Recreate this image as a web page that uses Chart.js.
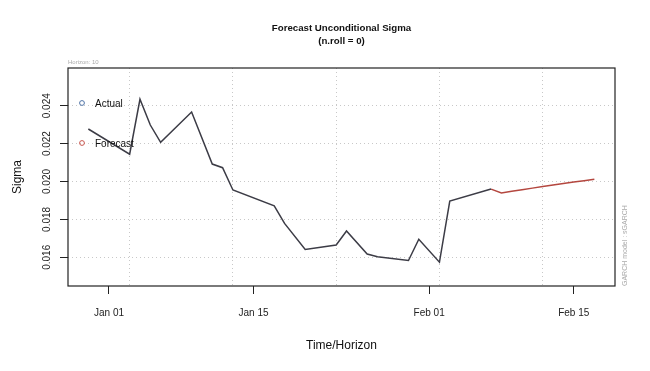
<!DOCTYPE html>
<html>
<head>
<meta charset="utf-8">
<script src="https://cdn.jsdelivr.net/npm/chart.js@4.4.1/dist/chart.umd.min.js"></script>
<style>
  html, body { margin: 0; padding: 0; background: #fff; }
  #wrap { width: 650px; height: 371px; }
</style>
</head>
<body>
<div id="wrap"><canvas id="sigmaChart"></canvas></div>
<script>
// values
const actualDates = [
  "2013-12-30", "2014-01-03", "2014-01-04", "2014-01-05", "2014-01-06",
  "2014-01-09", "2014-01-11", "2014-01-12", "2014-01-13", "2014-01-17",
  "2014-01-18", "2014-01-20", "2014-01-23", "2014-01-24", "2014-01-26",
  "2014-01-27", "2014-01-30", "2014-01-31", "2014-02-02", "2014-02-03",
  "2014-02-07"
];
const actualSigma = [
  0.02277, 0.02144, 0.02434, 0.02298, 0.02207,
  0.02367, 0.02092, 0.02073, 0.01955, 0.01872,
  0.01779, 0.01641, 0.01665, 0.01739, 0.01617,
  0.01603, 0.01583, 0.01695, 0.01574, 0.01897,
  0.01960
];
const forecastDates = [
  "2014-02-08", "2014-02-09", "2014-02-10", "2014-02-11", "2014-02-12",
  "2014-02-13", "2014-02-14", "2014-02-15", "2014-02-16", "2014-02-17"
];
const forecastSigma = [
  0.01939, 0.01948, 0.01957, 0.01965, 0.01973,
  0.01981, 0.01989, 0.01997, 0.02004, 0.02012
];
const xTickDates = ["2014-01-01", "2014-01-15", "2014-02-01", "2014-02-15"];
const xTickLabels = ["Jan 01", "Jan 15", "Feb 01", "Feb 15"];
const gridDates = ["2014-01-03", "2014-01-13", "2014-01-23", "2014-02-02", "2014-02-12"];
const yTicks = [0.016, 0.018, 0.020, 0.022, 0.024];
const titleLines = ["Forecast Unconditional Sigma", "(n.roll = 0)"];

const origin = Date.parse("2014-01-01");
const toDay = (d) => (Date.parse(d) - origin) / 86400000;

const actualPoints = actualDates.map((d, i) => ({ x: toDay(d), y: actualSigma[i] }));
const lastActual = actualPoints[actualPoints.length - 1];
const forecastPoints = [lastActual].concat(
  forecastDates.map((d, i) => ({ x: toDay(d), y: forecastSigma[i] }))
);

const fontFamily = "'Liberation Sans', Arial, Helvetica, sans-serif";
const legendColors = ["#4f73a6", "#c8574f"];

const textPlugin = {
  id: "rText",
  afterDraw(chart) {
    const ctx = chart.ctx;
    const area = chart.chartArea;
    const yScale = chart.scales.y;
    const midX = (area.left + area.right) / 2;
    ctx.save();

    // plot box
    ctx.strokeStyle = "#222";
    ctx.lineWidth = 1.2;
    ctx.strokeRect(area.left, area.top, area.right - area.left, area.bottom - area.top);

    // main title, centred over the plot region like R does
    ctx.fillStyle = "#111";
    ctx.font = "bold 9.7px " + fontFamily;
    ctx.textAlign = "center";
    ctx.textBaseline = "middle";
    titleLines.forEach((line, i) => {
      ctx.fillText(line, midX, 28 + i * 13);
    });

    // y tick labels, rotated like R
    ctx.fillStyle = "#222";
    ctx.font = "10px " + fontFamily;
    yScale.ticks.forEach((t) => {
      const py = yScale.getPixelForValue(t.value);
      ctx.save();
      ctx.translate(area.left - 21, py);
      ctx.rotate(-Math.PI / 2);
      ctx.fillText(t.value.toFixed(3), 0, 0);
      ctx.restore();
    });

    // legend
    chart.data.datasets.forEach((ds, i) => {
      const ly = area.top + 35 + i * 40;
      ctx.beginPath();
      ctx.arc(area.left + 14, ly, 2.4, 0, Math.PI * 2);
      ctx.strokeStyle = legendColors[i];
      ctx.lineWidth = 1;
      ctx.stroke();
      ctx.fillStyle = "#111";
      ctx.textAlign = "left";
      ctx.font = "10px " + fontFamily;
      ctx.fillText(ds.label, area.left + 27, ly + 1);
    });

    // small notes
    ctx.fillStyle = "#aaa";
    ctx.font = "6px " + fontFamily;
    ctx.textAlign = "left";
    ctx.textBaseline = "bottom";
    ctx.fillText("Horizon: 10", area.left, area.top - 3);

    ctx.font = "7px " + fontFamily;
    ctx.textBaseline = "middle";
    ctx.save();
    ctx.translate(area.right + 10, area.bottom);
    ctx.rotate(-Math.PI / 2);
    ctx.fillText("GARCH model : sGARCH", 0, 0);
    ctx.restore();

    ctx.restore();
  },
};

const config = {
  type: "line",
  data: {
    datasets: [
      {
        label: "Actual",
        data: actualPoints,
        borderColor: "#3c3c46",
        borderWidth: 1.5,
        pointRadius: 0,
        tension: 0,
      },
      {
        label: "Forecast",
        data: forecastPoints,
        borderColor: "#b4473f",
        borderWidth: 1.5,
        pointRadius: 0,
        tension: 0,
      },
    ],
  },
  options: {
    responsive: true,
    maintainAspectRatio: false,
    animation: false,
    layout: { padding: { left: 0, right: 35, top: 68, bottom: 0 } },
    plugins: {
      legend: { display: false },
      tooltip: { enabled: false },
      title: { display: false },
    },
    scales: {
      xg: {
        type: "linear",
        position: "bottom",
        min: -3.97,
        max: 49.0,
        afterBuildTicks: (scale) => {
          scale.ticks = gridDates.map((d) => ({ value: toDay(d) }));
        },
        afterFit: (scale) => { scale.height = 0; },
        ticks: { display: false },
        grid: { color: "#c8c8c8", lineWidth: 1, drawTicks: false },
        border: { display: false, dash: [1, 3] },
      },
      x: {
        type: "linear",
        position: "bottom",
        min: -3.97,
        max: 49.0,
        afterBuildTicks: (scale) => {
          scale.ticks = xTickDates.map((d) => ({ value: toDay(d) }));
        },
        afterFit: (scale) => { scale.height = 85; },
        ticks: {
          color: "#222",
          padding: 13,
          maxRotation: 0,
          font: { family: fontFamily, size: 10 },
          callback: (value, index) => xTickLabels[index],
        },
        grid: {
          drawOnChartArea: false,
          drawTicks: true,
          tickLength: 8,
          tickColor: "#222",
          tickWidth: 1,
        },
        border: { display: false },
        title: {
          display: true,
          text: "Time/Horizon",
          color: "#111",
          font: { family: fontFamily, size: 12 },
          padding: { top: 0, bottom: 17.8 },
        },
      },
      y: {
        type: "linear",
        min: 0.014485,
        max: 0.02599,
        afterBuildTicks: (scale) => {
          scale.ticks = yTicks.map((v) => ({ value: v }));
        },
        afterFit: (scale) => { scale.width = 68; },
        ticks: { display: false },
        grid: {
          color: "#c8c8c8",
          lineWidth: 1,
          drawTicks: true,
          tickLength: 8,
          tickColor: "#222",
          tickWidth: 1,
          tickBorderDash: [],
        },
        border: { display: false, dash: [1, 3] },
        title: {
          display: true,
          text: "Sigma",
          color: "#111",
          font: { family: fontFamily, size: 12 },
          padding: { top: 10.8, bottom: 0 },
        },
      },
    },
  },
  plugins: [textPlugin],
};

const sigmaChart = new Chart(document.getElementById("sigmaChart"), config);
</script>
</body>
</html>
